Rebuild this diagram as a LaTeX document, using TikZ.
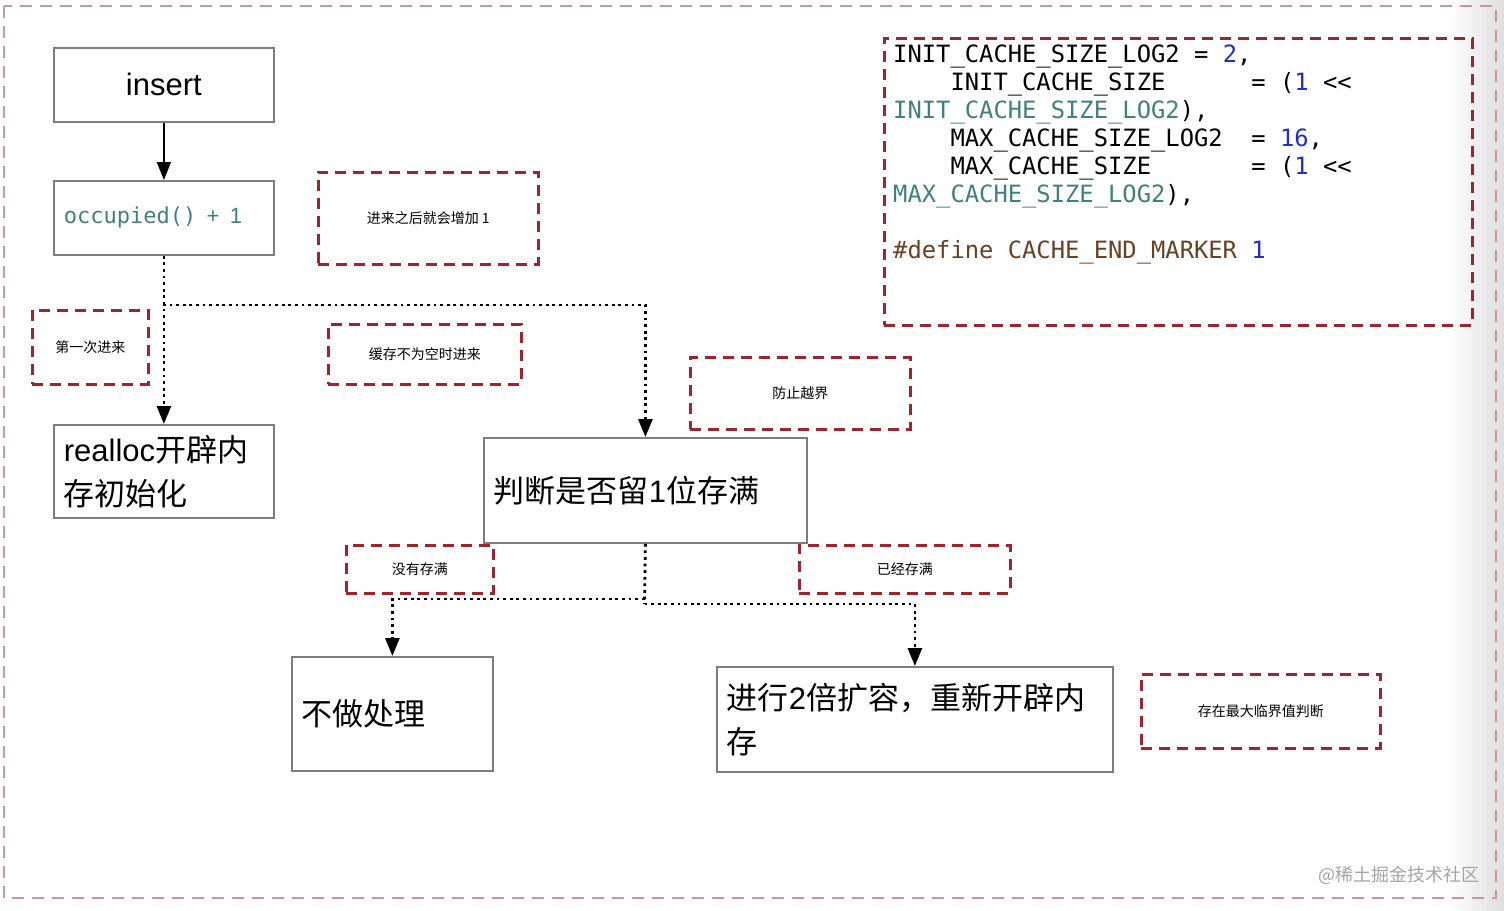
\documentclass[tikz,border=0pt]{standalone}
\usepackage{fontspec}
\setmainfont{Liberation Sans}
\setmonofont{DejaVu Sans Mono}
\newfontfamily\cjk{Noto Sans CJK SC}
\usetikzlibrary{arrows.meta}
\definecolor{notered}{RGB}{160,35,45}
\definecolor{framepink}{RGB}{205,150,158}
\definecolor{boxgray}{RGB}{125,125,125}
\definecolor{codeteal}{RGB}{65,128,128}
\definecolor{codeblue}{RGB}{35,45,200}
\definecolor{codebrown}{RGB}{105,65,35}
\definecolor{wmgray}{RGB}{165,165,165}
\newcommand\mysp[1]{\hspace*{#1\fontcharwd\font`\M}}
\tikzset{
  procbox/.style={draw=boxgray, line width=1.8pt, anchor=north west, inner sep=0pt,
    font=\fontsize{31}{44}\selectfont},
  leftbox/.style={procbox, align=left, inner xsep=10pt, text width=#1},
  notebox/.style={draw=notered, line width=2.6pt, dash pattern=on 11pt off 7pt,
    anchor=north west, inner sep=0pt, font=\cjk\fontsize{14}{17}\selectfont},
  codeline/.style={anchor=base west, inner sep=0pt, font=\ttfamily\fontsize{23.8}{28}\selectfont},
  solidarrow/.style={line width=1.8pt, -{Triangle[length=18pt,width=14pt]}},
  dotarrow/.style={line width=2.8pt, dash pattern=on 2.8pt off 3.8pt, -{Triangle[length=18pt,width=14pt]}},
  dotline/.style={line width=2.8pt, dash pattern=on 2.8pt off 3.8pt},
}
\begin{document}
\begin{tikzpicture}[x=1pt,y=-1pt]
\useasboundingbox (0,0) rectangle (1504,910);
\fill[white] (0,0) rectangle (1504,910);
\shade[left color=white, right color=black!13] (1450,0) rectangle (1504,910);
\draw[framepink, line width=1.8pt, dash pattern=on 12pt off 8pt] (4,6) rectangle (1496,898);

% process boxes
\node[procbox, minimum width=220pt, minimum height=74pt] (ins) at (53,47) {insert};
\node[leftbox=200pt, minimum height=74pt, text=codeteal] (occ) at (53,180)
  {{\ttfamily\fontsize{22}{26}\selectfont occupied()}\fontsize{22}{26}\selectfont{} + 1};
\node[leftbox=200pt, minimum height=93pt] (rea) at (53,424)
  {realloc{\cjk 开辟内}\\{\cjk 存初始化}};
\node[leftbox=303pt, minimum height=105pt] (jud) at (483,437)
  {{\cjk 判断是否留}1{\cjk 位存满}};
\node[leftbox=181pt, minimum height=114pt] (nof) at (291,656)
  {{\cjk 不做处理}};
\node[leftbox=376pt, minimum height=105pt] (exp) at (716,666)
  {{\cjk 进行}2{\cjk 倍扩容，重新开辟内}\\{\cjk 存}};

% notes
\node[notebox, minimum width=220pt, minimum height=92pt] (n1) at (317,171) {进来之后就会增加 1};
\node[notebox, minimum width=116pt, minimum height=74pt] (n2) at (31,309) {第一次进来};
\node[notebox, minimum width=193pt, minimum height=60pt] (n3) at (327,323) {缓存不为空时进来};
\node[notebox, minimum width=220pt, minimum height=72pt] (n4) at (689,356) {防止越界};
\node[notebox, minimum width=147pt, minimum height=48pt] (n5) at (345,544) {没有存满};
\node[notebox, minimum width=211pt, minimum height=48pt] (n6) at (798,544) {已经存满};
\node[notebox, minimum width=239pt, minimum height=74pt] (n7) at (1140,673) {存在最大临界值判断};
\node[notebox, minimum width=588pt, minimum height=287pt] (codebox) at (883,37) {};

% code
\node[codeline] (c1) at (893,62) {INIT\_CACHE\_SIZE\_LOG2 = \textcolor{codeblue}{2},};
\node[codeline] (c2) at (893,90) {\mysp{4}INIT\_CACHE\_SIZE\mysp{6}= (\textcolor{codeblue}{1} <<};
\node[codeline] (c3) at (893,118) {\textcolor{codeteal}{INIT\_CACHE\_SIZE\_LOG2}),};
\node[codeline] (c4) at (893,146) {\mysp{4}MAX\_CACHE\_SIZE\_LOG2\mysp{2}= \textcolor{codeblue}{16},};
\node[codeline] (c5) at (893,174) {\mysp{4}MAX\_CACHE\_SIZE\mysp{7}= (\textcolor{codeblue}{1} <<};
\node[codeline] (c6) at (893,202) {\textcolor{codeteal}{MAX\_CACHE\_SIZE\_LOG2}),};
\node[codeline] (c7) at (893,258) {\textcolor{codebrown}{\#define CACHE\_END\_MARKER} \textcolor{codeblue}{1}};

% watermark
\node[anchor=east, inner sep=0pt, text=wmgray, font=\cjk\fontsize{18}{20}\selectfont] (wm) at (1480,875) {@稀土掘金技术社区};

% connectors
\coordinate (b1) at (163,305);
\coordinate (b2) at (644.5,599);
\coordinate (b3) at (644.5,604);
\draw[solidarrow] (ins) -- (occ);
\draw[dotarrow] (occ.south) -- (rea.north);
\draw[dotarrow] (b1) -| (jud.north);
\draw[dotline] (jud.south) -- (b3);
\draw[dotarrow] (b2) -| (nof.north);
\draw[dotarrow] (b3) -| (exp.north);
\end{tikzpicture}
\end{document}
